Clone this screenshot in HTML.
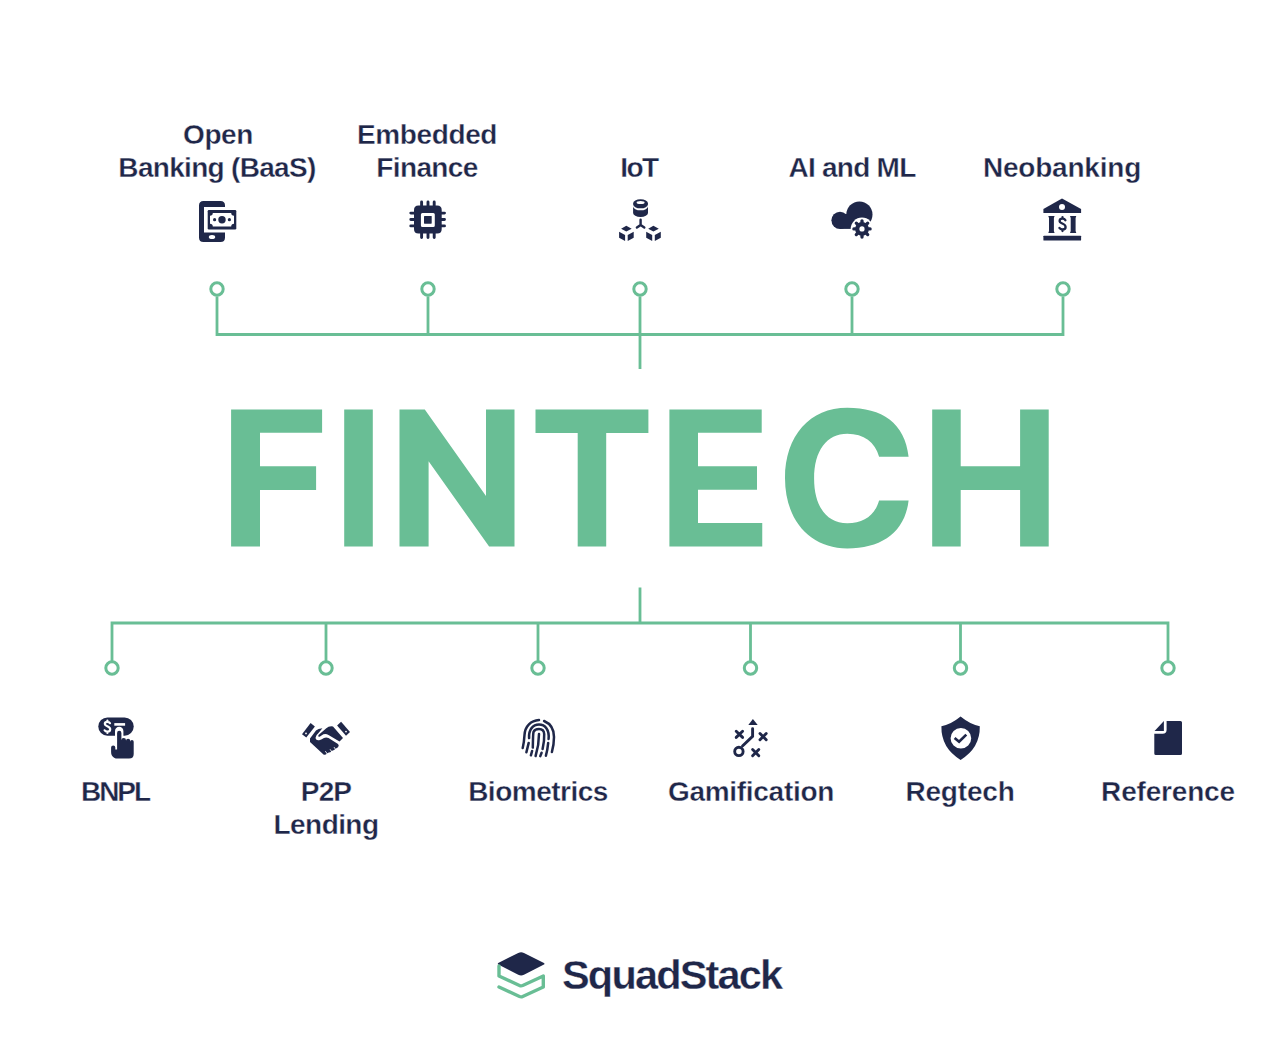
<!DOCTYPE html>
<html>
<head>
<meta charset="utf-8">
<style>
html,body{margin:0;padding:0;background:#ffffff;}
body{width:1280px;height:1050px;position:relative;overflow:hidden;font-family:"Liberation Sans",sans-serif;}
.lbl{position:absolute;width:300px;text-align:center;font-weight:bold;-webkit-text-stroke:0.35px #fff;font-size:28px;line-height:32.3px;letter-spacing:-0.45px;color:#1f2749;white-space:nowrap;}
.big{position:absolute;left:0;top:0;font-weight:bold;color:#69be95;white-space:nowrap;}
svg{position:absolute;left:0;top:0;}
</style>
</head>
<body>
<div class="lbl" style="left:67px;top:119.2px;line-height:32.8px;"><span style="letter-spacing:-0.45px;position:relative;left:1px">Open</span><br><span style="letter-spacing:-0.69px">Banking (BaaS)</span></div>
<div class="lbl" style="left:277px;top:119.2px;line-height:32.8px;"><span style="letter-spacing:-0.38px">Embedded</span><br><span style="letter-spacing:-0.62px">Finance</span></div>
<div class="lbl" style="left:489px;top:152px;"><span style="letter-spacing:-1.55px">IoT</span></div>
<div class="lbl" style="left:702px;top:152px;"><span style="letter-spacing:-0.75px">AI and ML</span></div>
<div class="lbl" style="left:912px;top:152px;"><span style="letter-spacing:-0.21px">Neobanking</span></div>



<div class="lbl" style="left:-35px;top:776.4px;"><span style="letter-spacing:-2.08px">BNPL</span></div>
<div class="lbl" style="left:176px;top:776.4px;"><span style="letter-spacing:-0.85px">P2P</span><br><span style="letter-spacing:-0.58px">Lending</span></div>
<div class="lbl" style="left:388px;top:776.4px;"><span style="letter-spacing:-0.5px">Biometrics</span></div>
<div class="lbl" style="left:601px;top:776.4px;"><span style="letter-spacing:-0.29px">Gamification</span></div>
<div class="lbl" style="left:810px;top:776.4px;"><span style="letter-spacing:-0.18px">Regtech</span></div>
<div class="lbl" style="left:1018px;top:776.4px;"><span style="letter-spacing:-0.18px">Reference</span></div>

<div class="lbl" style="left:562px;top:953px;width:auto;font-size:41.5px;line-height:44px;letter-spacing:-1.82px;">SquadStack</div>

<svg width="1280" height="1050" viewBox="0 0 1280 1050">
<g fill="#69be95">
  <path d="M231.1 409.4H322.1V432.8H260V466.3H316.1V489.9H260V546.6H231.1Z"/>
  <path d="M344.2 409.4H372.8V546.6H344.2Z"/>
  <path d="M399.5 409.4H424.8L486 496V409.4H514.5V546.6H489.1L428.6 461.2V546.6H399.5Z"/>
  <path d="M535.5 409.4H648.4V433H606.2V546.6H577.7V433H535.5Z"/>
  <path d="M669.4 409.4H761.7V432.8H698V466.3H757V489.8H698V523.1H762.25V546.6H669.4Z"/>
  <path d="M908.6 456.8C905 423 882 407.7 847.3 407.7C809.9 407.7 785 435.8 785 478C785 520.2 809.9 548.4 847.3 548.4C882 548.4 905 532 908.6 500.4H879.1C875 515 864 523.3 847.3 523.3C826.7 523.3 814.1 506.3 814.1 478.5C814.1 450.7 826.7 433.7 847.3 433.7C864 433.7 875 442 879.1 456.8Z"/>
  <path d="M932.2 409.4H960.7V466.3H1020.1V409.4H1048.7V546.6H1020.1V489.9H960.7V546.6H932.2Z"/>
</g>
<g fill="none" stroke="#69be95" stroke-width="2.8">
  <!-- top tree -->
  <path d="M217 296.5V334.5H1063V296.5 M428 296.5V334.5 M640 296.5V369 M852 296.5V334.5"/>
  <circle cx="217" cy="289" r="6.2" stroke-width="3"/>
  <circle cx="428" cy="289" r="6.2" stroke-width="3"/>
  <circle cx="640" cy="289" r="6.2" stroke-width="3"/>
  <circle cx="852" cy="289" r="6.2" stroke-width="3"/>
  <circle cx="1063" cy="289" r="6.2" stroke-width="3"/>
  <!-- bottom tree -->
  <path d="M640 587.5V623 M112 661V623H1168V661 M326 623V661 M538 623V661 M750.5 623V661 M960.5 623V661"/>
  <circle cx="112" cy="668" r="6.2" stroke-width="3"/>
  <circle cx="326" cy="668" r="6.2" stroke-width="3"/>
  <circle cx="538" cy="668" r="6.2" stroke-width="3"/>
  <circle cx="750.5" cy="668" r="6.2" stroke-width="3"/>
  <circle cx="960.5" cy="668" r="6.2" stroke-width="3"/>
  <circle cx="1168" cy="668" r="6.2" stroke-width="3"/>
</g>

<g fill="#1f2749">
  <!-- phone money -->
  <path d="M203.5 201H220.5Q225 201 225 205.5V207H204V232.5H225V237.5Q225 242 220.5 242H203.5Q199 242 199 237.5V205.5Q199 201 203.5 201Z"/>
  <ellipse cx="212" cy="237" rx="3.2" ry="2" fill="#fff"/>
  <rect x="207.7" y="210" width="28.6" height="19.4" rx="1.2"/>
  <path fill="#fff" d="M212.8 212.9H231.2A2.9 2.9 0 0 0 234 215.7V223.8A2.9 2.9 0 0 0 231.2 226.6H212.8A2.9 2.9 0 0 0 210 223.8V215.7A2.9 2.9 0 0 0 212.8 212.9Z"/>
  <circle cx="222" cy="219.7" r="3.7"/>
  <circle cx="214.6" cy="219.7" r="1.6"/>
  <circle cx="229.4" cy="219.7" r="1.6"/>

  <!-- chip -->
  <path fill-rule="evenodd" d="M418.5 205.4H437.2Q441.7 205.4 441.7 209.9V228.9Q441.7 233.4 437.2 233.4H418.5Q414 233.4 414 228.9V209.9Q414 205.4 418.5 205.4Z M422.4 212.9Q420.9 212.9 420.9 214.4V225.6Q420.9 227.1 422.4 227.1H433.3Q434.8 227.1 434.8 225.6V214.4Q434.8 212.9 433.3 212.9Z"/>
  <rect x="424" y="216" width="7.7" height="7.7" rx="0.6"/>
  <g stroke="#1f2749" stroke-width="2.9" stroke-linecap="round">
    <path d="M421.6 202V206M428 202V206M434.2 202V206M421.6 233V237.5M428 233V237.5M434.2 233V237.5M410.8 213.1H415M410.8 219.5H415M410.8 225.9H415M441 213.1H444.5M441 219.5H444.5M441 225.9H444.5"/>
  </g>

  <!-- iot -->
  <path fill-rule="evenodd" d="M633.1 203.4A7.45 4.2 0 0 1 648 203.4V204.3A7.45 4 0 0 1 633.1 204.3Z M636.6 202.6A4 1.5 0 0 0 644.6 202.6A4 1.5 0 0 0 636.6 202.6Z"/>
  <path d="M633.1 206.3A7.45 4 0 0 0 648 206.3V212.9A7.45 4 0 0 1 633.1 212.9Z"/>
  <g stroke="#1f2749" stroke-width="2.4" stroke-linecap="round" fill="none">
    <path d="M640.6 219.7V225.1L636.9 227.6M640.6 225.1L644.3 227.6"/>
  </g>
  <g transform="translate(0 0.7)"><path d="M621.1 228L626.3 225.1L631.7 228L626.3 230.9Z M619.1 231.1L625.1 234.3V240.3L619.1 237.1Z M627.7 234.3L633.7 231.1V237.1L627.7 240.3Z"/>
  <path d="M648.2 228L653.4 225.1L658.8 228L653.4 230.9Z M646.2 231.1L652.2 234.3V240.3L646.2 237.1Z M654.8 234.3L660.8 231.1V237.1L654.8 240.3Z"/></g>

  <!-- cloud gear -->
  <circle cx="840" cy="220.3" r="8.6"/>
  <circle cx="859.4" cy="214.6" r="13.1"/>
  <rect x="840" y="214" width="20" height="14.9"/>
  <circle cx="862" cy="228.9" r="11.3" fill="#fff"/>
  <g transform="translate(862 228.9)">
    <circle r="6.9"/>
    <g stroke="#1f2749" stroke-width="3.3" stroke-linecap="round">
      <path d="M0 -8.1V8.1M-8.1 0H8.1M-5.7 -5.7L5.7 5.7M-5.7 5.7L5.7 -5.7"/>
    </g>
    <circle r="2.6" fill="#fff"/>
  </g>

  <!-- bank -->
  <path d="M1043.4 212.9V208.9L1062 198.6L1081.1 208.9V212.9Z"/>
  <circle cx="1062" cy="206.9" r="3" fill="#fff"/>
  <path d="M1048.3 216H1054.6L1053.9 218V231L1054.6 232.9H1048.3L1049 231V218Z M1070 216H1076.3L1075.6 218V231L1076.3 232.9H1070L1070.7 231V218Z"/>
  <rect x="1043.4" y="235.7" width="37.7" height="4.9" rx="0.6"/>
  <path fill="none" stroke="#1f2749" stroke-width="2.3" stroke-linecap="round" d="M1065.4 220.2C1064.9 219.1 1063.9 218.6 1062.5 218.6C1060.7 218.6 1059.6 219.5 1059.6 220.9C1059.6 224 1065.6 222.9 1065.6 226.9C1065.6 228.5 1064.3 229.5 1062.5 229.5C1061 229.5 1060 228.9 1059.4 227.9M1062.5 217.2V218.6M1062.5 229.5V231"/>

  <!-- bnpl -->
  <rect x="98.3" y="717.4" width="35.4" height="18.3" rx="9.15"/>
  <path fill="none" stroke="#fff" stroke-width="2.2" stroke-linecap="round" d="M110 723.2C109.5 722.3 108.6 721.8 107.4 721.8C105.8 721.8 104.8 722.6 104.8 723.9C104.8 726.7 110.2 725.7 110.2 729.3C110.2 730.8 109 731.7 107.4 731.7C106.1 731.7 105.1 731.2 104.6 730.3M107.4 720.6V721.8M107.4 731.7V733"/>
  <rect x="114.3" y="723.1" width="10.8" height="2.6" fill="#fff"/>
  <path fill="#fff" d="M115 744V731A4.2 4.2 0 0 1 123.4 731V744Z"/>
  <path d="M117.1 749.5V733A2.15 2.15 0 0 1 121.4 733V740.2A2.3 2.3 0 0 1 126 740.2V740.8A2.1 2.1 0 0 1 130.2 740.8V741.7A1.75 1.75 0 0 1 133.7 741.7V754Q133.7 758.6 129.1 758.6H117.5Q113.6 758.6 111.9 755.5Q111.1 754 111.1 752V747.6A2.1 2.1 0 0 1 115.3 747.6V749.5Z"/>

  <!-- handshake -->
  <path d="M302 734.3L310.6 723.1L314.9 726.6L306.3 737.4Z"/>
  <circle cx="306" cy="733.4" r="0.9" fill="#fff"/>
  <path d="M337.1 725.4L341.1 721.7L350 732L346 735.7Z"/>
  <circle cx="346" cy="731.6" r="0.9" fill="#fff"/>
  <path d="M343 738L339.5 741.5L328.5 735Q325 733 321.5 735.5L320 736.5Q317.5 737.5 318.5 735L326 728.5Q329 725.8 333 726.5Z"/>
  <path d="M322.4 728.3Q318 728.5 316 730.5L310 738.5V742L323.5 754.5Q325.5 755.2 327 753.5L328.8 752.6Q330.6 752.5 331.5 751L333 750.4Q335 749.5 336 748.6L338 747.3Q339.5 745.5 338 744L328.5 738Q325 736.8 321.8 739.2L320 740Q315.5 741 315.6 737.5Q316 735 318.5 733Z"/>

  <path fill="none" stroke="#fff" stroke-width="0.9" stroke-linecap="round" d="M327.6 754.4L325.6 751.5M332.3 752.5L330.3 749.6M336.2 750.3L334.2 747.4"/>

  <!-- fingerprint -->
  <g fill="none" stroke="#1f2749" stroke-width="2.5" stroke-linecap="round">
    <path d="M539 720C531 720.5 525 726 524.5 735C524.2 740 523.5 745 522.7 748"/>
    <path d="M544.1 721C550 723.5 554 729 554 737C554 743 553 748 551.9 752"/>
    <path d="M529.1 738.1C528.5 729.5 533 724.6 539 724.6C545 724.6 549.5 729.5 548.6 739"/>
    <path d="M528.7 742.9L526.4 752.3"/>
    <path d="M548.2 742.9C547.8 747 547 752 545.9 755.7"/>
    <path d="M532.8 747.6C533 740 533 734 533.5 732C534.5 729.5 537 729.1 539 729.1C542 729.1 544 731 544.2 734C544.5 740 543.5 745 542.6 749"/>
    <path d="M539 734C539 742 537.5 750 535.6 756"/>
    <path d="M532.1 751L530.9 755.3"/>
    <path d="M541.6 752.7L540.3 756.1"/>
  </g>

  <!-- gamification -->
  <path d="M748.3 724.9L752.9 719.1L757.7 724.9Z"/>
  <g fill="none" stroke="#1f2749" stroke-width="2.9" stroke-linecap="round">
    <path d="M752.6 728.8V736.4L742.5 746"/>
    <circle cx="738.9" cy="751.4" r="4.2"/>
    <path d="M736.2 731.2L742.6 737.4M742.6 731.2L736.2 737.4"/>
    <path d="M760 733.5L766.2 739.7M766.2 733.5L760 739.7"/>
    <path d="M752.6 749.5L758.8 755.7M758.8 749.5L752.6 755.7"/>
  </g>

  <!-- shield -->
  <path fill-rule="evenodd" d="M960.6 716.6Q951 724.5 941.4 726.3Q941 748 960.6 759.9Q980.2 748 979.8 726.3Q970.2 724.5 960.6 716.6Z M960.9 728A10.3 10.3 0 1 0 960.9 748.6A10.3 10.3 0 1 0 960.9 728Z"/>
  <path fill="none" stroke="#1f2749" stroke-width="2.7" d="M954.6 738L959.1 741.7L966.3 734.6"/>

  <!-- document -->
  <path d="M1166.6 721.1H1180.5Q1182 721.1 1182 722.6V753.4Q1182 754.9 1180.5 754.9H1155.8Q1154.3 754.9 1154.3 753.4V733.7H1162.6Q1166.6 733.7 1166.6 729.7Z"/>
  <path d="M1154.6 730.9L1163.9 721.1V730.9Z"/>

  <!-- logo -->
  <path stroke="#1f2749" stroke-width="1.6" stroke-linejoin="round" d="M498.6 963.8L518.6 953.6Q521.1 952.4 523.6 953.6L543.6 963.8L523.6 974Q521.1 975.2 518.6 974Z"/>
  <path fill="none" stroke="#69be95" stroke-width="3.4" stroke-linejoin="round" stroke-linecap="round" d="M499 966V976L519.5 985.5Q521.1 986.2 522.7 985.5L543.3 976V987L522.7 996.5Q521.1 997.2 519.5 996.5L499 987"/>
</g>
</svg>
</body>
</html>
